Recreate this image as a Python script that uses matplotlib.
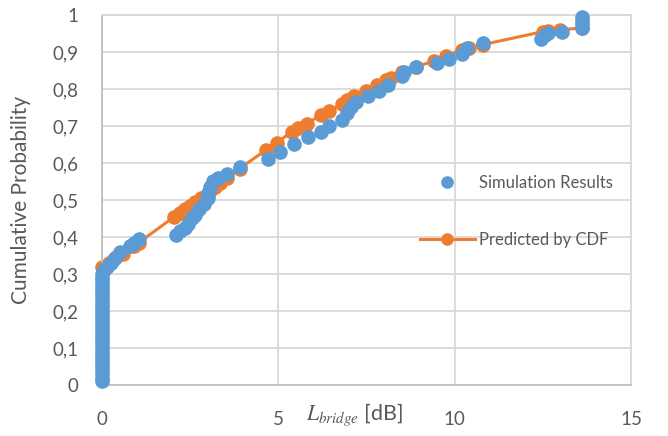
import matplotlib
matplotlib.use("Agg")
import matplotlib.pyplot as plt
from matplotlib.ticker import FuncFormatter, MultipleLocator

plt.rcParams["font.family"] = ["Lato", "DejaVu Sans"]
plt.rcParams["mathtext.fontset"] = "stix"

# simulation results (blue scatter)
sim_x = [0, 0, 0, 0, 0, 0, 0, 0, 0, 0,
         0, 0, 0, 0, 0, 0, 0, 0, 0, 0,
         0, 0, 0, 0, 0, 0, 0, 0, 0, 0,
         0.05, 0.15, 0.25, 0.35, 0.5, 0.8, 0.9, 1.05,
         2.1, 2.2, 2.35, 2.45, 2.55, 2.65, 2.75, 2.9, 3.0, 3.0, 3.05, 3.15, 3.3, 3.55, 3.9,
         4.7, 5.05, 5.45, 5.85, 6.2, 6.45, 6.8, 6.95, 7.05, 7.2, 7.55, 7.85, 8.1,
         8.5, 8.55, 8.9, 9.5, 9.85, 10.2, 10.35, 10.8,
         12.45, 12.55, 12.65, 13.05, 13.6, 13.6, 13.6, 13.6]
sim_y = [0.01, 0.02, 0.03, 0.04, 0.05, 0.06, 0.07, 0.08, 0.09, 0.10,
         0.11, 0.12, 0.13, 0.14, 0.15, 0.16, 0.17, 0.18, 0.19, 0.20,
         0.21, 0.22, 0.23, 0.24, 0.25, 0.26, 0.27, 0.28, 0.29, 0.30,
         0.31, 0.32, 0.33, 0.34, 0.36, 0.375, 0.385, 0.395,
         0.405, 0.415, 0.425, 0.435, 0.45, 0.46, 0.475, 0.49, 0.505, 0.52, 0.535, 0.55, 0.56, 0.57, 0.59,
         0.61, 0.63, 0.65, 0.67, 0.685, 0.70, 0.715, 0.735, 0.75, 0.765, 0.78, 0.795, 0.81,
         0.835, 0.845, 0.86, 0.87, 0.88, 0.895, 0.91, 0.925,
         0.935, 0.945, 0.95, 0.955, 0.965, 0.975, 0.985, 0.995]

# predicted by CDF (orange line with markers)
cdf_x = [0, 0.2, 0.4, 0.6, 0.9, 1.05,
         2.05, 2.2, 2.35, 2.5, 2.65, 2.8, 3.05, 3.2, 3.35, 3.55, 3.9,
         4.65, 4.95, 5.4, 5.55, 5.8, 6.2, 6.45, 6.8, 6.95, 7.15, 7.5, 7.8, 8.05, 8.2,
         8.5, 8.9, 9.4, 9.75, 10.2, 10.4, 10.8, 12.5, 12.65, 13.0, 13.6]
cdf_y = [0.32, 0.33, 0.345, 0.355, 0.375, 0.385,
         0.455, 0.465, 0.475, 0.485, 0.495, 0.505, 0.525, 0.535, 0.545, 0.56, 0.585,
         0.635, 0.655, 0.685, 0.695, 0.705, 0.73, 0.74, 0.76, 0.77, 0.78, 0.795, 0.81, 0.825, 0.83,
         0.845, 0.86, 0.875, 0.89, 0.905, 0.91, 0.92, 0.955, 0.957, 0.96, 0.965]

blue = "#5B9BD5"
orange = "#ED7D31"
grey = "#595959"
gridc = "#D9D9D9"

fig = plt.figure(figsize=(6.68, 4.36), dpi=100)
ax = fig.add_axes([0.1527, 0.117, 0.7919, 0.8486])

line_cdf, = ax.plot(cdf_x, cdf_y, color=orange, lw=2.2, marker="o", ms=9.5,
                    label="Predicted by CDF", zorder=2, clip_on=False)
pts_sim, = ax.plot(sim_x, sim_y, ls="none", color=blue, marker="o", ms=9.5,
                   label="Simulation Results", zorder=3, clip_on=False)

ax.set_xlim(0, 15)
ax.set_ylim(0, 1)
ax.xaxis.set_major_locator(MultipleLocator(5))
ax.yaxis.set_major_locator(MultipleLocator(0.1))


def comma(v, pos):
    s = f"{v:.1f}".rstrip("0").rstrip(".")
    return s.replace(".", ",")


ax.xaxis.set_major_formatter(FuncFormatter(comma))
ax.yaxis.set_major_formatter(FuncFormatter(comma))

ax.grid(True, color=gridc, lw=1.3, zorder=0)
ax.set_axisbelow(True)
for sp in ax.spines.values():
    sp.set_color(gridc)
    sp.set_linewidth(1.3)
ax.spines["left"].set_color("#BFBFBF")
ax.spines["bottom"].set_color("#BFBFBF")
ax.tick_params(length=0, labelsize=13.5, labelcolor=grey)
ax.tick_params(axis="y", pad=17)
ax.tick_params(axis="x", pad=19)

ax.set_ylabel("Cumulative Probability", fontsize=15, color=grey)
ax.yaxis.set_label_coords(-0.135, 0.5)
ax.set_xlabel(r"$L_{bridge}$" + " [dB]", fontsize=15.5, color=grey)
ax.xaxis.set_label_coords(0.478, -0.045)

ax.legend(handles=[pts_sim, line_cdf], loc="upper left",
          bbox_to_anchor=(0.601, 0.568), borderaxespad=0, borderpad=0,
          frameon=False, fontsize=12, handlelength=3.3, handletextpad=0.25,
          labelspacing=2.45, markerscale=0.85, labelcolor=grey)

fig.savefig("out.png", dpi=100)
